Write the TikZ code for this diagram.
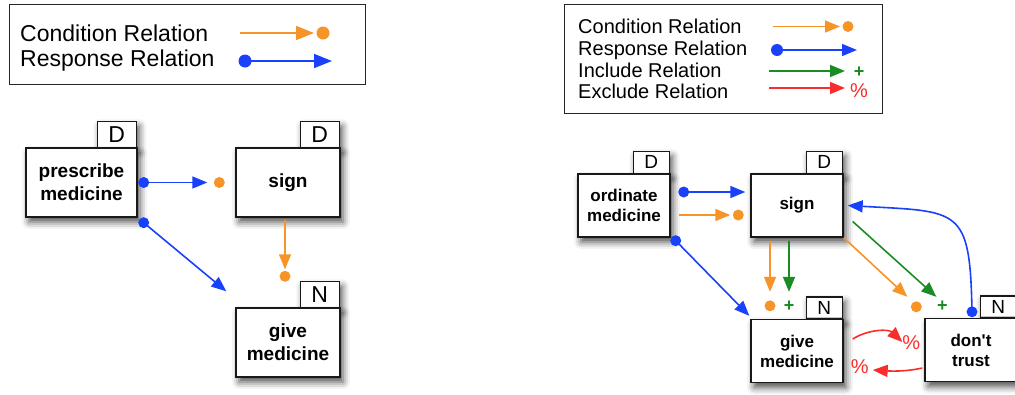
\documentclass[tikz,border=0pt]{standalone}
\usepackage{fontspec}
\setmainfont{Liberation Sans}
\usetikzlibrary{arrows.meta,shadows.blur,calc}
\definecolor{corange}{RGB}{247,148,40}
\definecolor{cblue}{RGB}{25,65,250}
\definecolor{cgreen}{RGB}{25,140,35}
\definecolor{cred}{RGB}{250,45,45}
\begin{document}
\begin{tikzpicture}[x=1pt,y=-1pt,
  shad/.style={blur shadow={shadow xshift=3pt,shadow yshift=-5pt,shadow blur radius=7pt,shadow opacity=70}},
  box/.style={draw=black!90,line width=1.4pt,fill=white,inner sep=0pt,align=center,shad},
  lbox/.style={box,minimum height=69pt,font=\bfseries\fontsize{19}{23}\selectfont},
  rbox/.style={box,minimum width=92pt,minimum height=63pt,font=\bfseries\fontsize{17}{20}\selectfont},
  ltag/.style={draw=black!90,line width=1.4pt,fill=white,minimum width=39pt,minimum height=26pt,inner sep=0pt,anchor=south east,font=\fontsize{23}{23}\selectfont,shad},
  rtag/.style={draw=black!90,line width=1.4pt,fill=white,minimum width=36pt,minimum height=22pt,inner sep=0pt,anchor=south east,font=\fontsize{19}{19}\selectfont,shad},
  legbox/.style={draw=black!85,line width=1.4pt,anchor=north west,inner sep=0pt},
  ltxt/.style={anchor=base west,inner sep=0pt,font=\fontsize{23}{23}\selectfont},
  rtxt/.style={anchor=base west,inner sep=0pt,font=\fontsize{20}{20}\selectfont},
  bigtip/.style={-{Triangle[length=18pt,width=14pt]}},
  tip/.style={-{Triangle[length=15pt,width=12pt]}},
  cond/.style={corange,line width=1.6pt},
  resp/.style={cblue,line width=1.6pt},
  incl/.style={cgreen,line width=1.6pt},
  excl/.style={cred,line width=1.6pt},
  plus/.style={cgreen,inner sep=0pt,font=\bfseries\fontsize{18}{18}\selectfont},
  pct/.style={cred,inner sep=0pt,font=\fontsize{20}{20}\selectfont},
]
\clip (0,0) rectangle (1015,394);
\useasboundingbox (0,0) rectangle (1015,394);

% ---------------- left legend
\node[legbox,minimum width=356pt,minimum height=80pt] (leg1) at (9,4) {};
\node[ltxt] (l1c) at (20,41.5) {Condition Relation};
\node[ltxt] (l1r) at (20,66.5) {Response Relation};
\coordinate (l1ca) at (240,33);
\coordinate (l1cb) at (314,33);
\coordinate (l1cd) at (323,33);
\draw[cond,bigtip] (l1ca) -- (l1cb);
\fill[corange] (l1cd) circle (6.5);
\coordinate (l1ra) at (245,61);
\coordinate (l1rb) at (332,61);
\fill[cblue] (l1ra) circle (6.5);
\draw[resp,bigtip] (l1ra) -- (l1rb);

% ---------------- right legend
\node[legbox,minimum width=318pt,minimum height=109pt] (leg2) at (564,4) {};
\node[rtxt] (r1c) at (578,33) {Condition Relation};
\node[rtxt] (r1r) at (578,55) {Response Relation};
\node[rtxt] (r1i) at (578,77) {Include Relation};
\node[rtxt] (r1e) at (578,98) {Exclude Relation};
\coordinate (r1ca) at (773,26.5);
\coordinate (r1cb) at (840,26.5);
\coordinate (r1cd) at (848,26.5);
\draw[cond,tip] (r1ca) -- (r1cb);
\fill[corange] (r1cd) circle (5.5);
\coordinate (r1ra) at (777,50);
\coordinate (r1rb) at (857,50);
\fill[cblue] (r1ra) circle (6);
\draw[resp,tip] (r1ra) -- (r1rb);
\coordinate (r1ia) at (769,71);
\coordinate (r1ib) at (845,71);
\draw[incl,tip] (r1ia) -- (r1ib);
\node[plus] (r1ip) at (859,72) {+};
\coordinate (r1ea) at (769,88);
\coordinate (r1eb) at (845,88);
\draw[excl,tip] (r1ea) -- (r1eb);
\node[pct] (r1ep) at (859,91) {\%};

% ---------------- left diagram
\coordinate (pmc) at (81.5,182.5);
\coordinate (sgc) at (288,182.5);
\coordinate (gmc) at (288,342.5);
\node[ltag] (pmt) at ($(pmc)+(55.5,-34.5)$) {D};
\node[ltag] (sgt) at ($(sgc)+(52,-34.5)$) {D};
\node[ltag] (gmt) at ($(gmc)+(52,-34.5)$) {N};
\node[lbox,minimum width=111pt] (pm) at (pmc) {prescribe\\medicine};
\node[lbox,minimum width=104pt] (sg) at (sgc) {sign};
\node[lbox,minimum width=104pt] (gm) at (gmc) {give\\medicine};
% pm -> sign (response)
\coordinate (a1) at ($(pm.east)+(6,0)$);
\coordinate (a2) at ($(sg.west)+(-28,0)$);
\fill[cblue] (a1) circle (5.5);
\draw[resp,tip] (a1) -- (a2);
\fill[corange] ($(sg.west)+(-16,0)$) circle (5.5);
% pm -> give (response)
\coordinate (b1) at ($(pm.south east)+(6,5)$);
\coordinate (b2) at ($(gm.north west)+(-9,-16)$);
\fill[cblue] (b1) circle (5.5);
\draw[resp,tip] (b1) -- (b2);
% sign -> give (condition)
\coordinate (c1) at ($(sg.south)+(-3,2)$);
\coordinate (c2) at ($(gm.north)+(-3,-38)$);
\draw[cond,tip] (c1) -- (c2);
\fill[corange] ($(gm.north)+(-3,-31)$) circle (5.5);

% ---------------- right diagram
\coordinate (omc) at (624,205.5);
\coordinate (s2c) at (797,205.5);
\coordinate (g2c) at (797,351);
\coordinate (dtc) at (971,350);
\node[rtag] (omt) at ($(omc)+(46,-31.5)$) {D};
\node[rtag] (s2t) at ($(s2c)+(46,-31.5)$) {D};
\node[rtag] (g2t) at ($(g2c)+(46,-31.5)$) {N};
\node[rtag] (dtt) at ($(dtc)+(46,-31.5)$) {N};
\node[rbox] (om) at (omc) {ordinate\\medicine};
\node[rbox] (s2) at (s2c) {sign};
\node[rbox] (g2) at (g2c) {give\\medicine};
\node[rbox] (dt) at (dtc) {don\textquotesingle t\\trust};
% om -> sign response
\coordinate (d1) at ($(om.east)+(13,-13.5)$);
\coordinate (d2) at ($(s2.west)+(-5,-13.5)$);
\fill[cblue] (d1) circle (5.5);
\draw[resp,tip] (d1) -- (d2);
% om -> sign condition
\coordinate (e1) at ($(om.east)+(8,9.5)$);
\coordinate (e2) at ($(s2.west)+(-20,9.5)$);
\draw[cond,tip] (e1) -- (e2);
\fill[corange] ($(s2.west)+(-12,9.5)$) circle (5.5);
% om -> give response
\coordinate (f1) at ($(om.south east)+(5,3)$);
\coordinate (f2) at ($(g2.north west)+(-1,-3)$);
\fill[cblue] (f1) circle (5.5);
\draw[resp,tip] (f1) -- (f2);
% sign -> give condition / include
\coordinate (g1) at ($(s2.south)+(-27,3)$);
\coordinate (g2e) at ($(g2.north)+(-27,-27)$);
\draw[cond,tip] (g1) -- (g2e);
\fill[corange] ($(g2.north)+(-27,-13)$) circle (5.5);
\coordinate (h1) at ($(s2.south)+(-8,3)$);
\coordinate (h2) at ($(g2.north)+(-8,-27)$);
\draw[incl,tip] (h1) -- (h2);
\node[plus] (hp) at ($(g2.north)+(-8,-13)$) {+};
% sign -> dt condition / include
\coordinate (i1) at (s2.south east);
\coordinate (i2) at ($(dt.north west)+(-17,-21)$);
\draw[cond,tip] (i1) -- (i2);
\fill[corange] ($(dt.north west)+(-8,-11)$) circle (5.5);
\coordinate (j1) at ($(s2.east)+(9,16)$);
\coordinate (j2) at ($(dt.north west)+(12,-21)$);
\draw[incl,tip] (j1) -- (j2);
\node[plus] (jp) at ($(dt.north west)+(18,-12)$) {+};
% dt -> sign response (curved)
\coordinate (k1) at ($(dt.north)+(1,-6)$);
\coordinate (k2) at ($(s2.east)+(4,0)$);
\fill[cblue] (k1) circle (5.5);
\draw[resp,tip] (k1) .. controls ($(k1)+(-2,-105)$) and ($(k1)+(-12,-100)$) .. (k2);
% give -> dt exclude
\coordinate (m1) at ($(g2.east)+(9,-12)$);
\coordinate (m2) at ($(dt.west)+(-22,-8)$);
\draw[excl,tip] (m1) .. controls ($(m1)+(16,-10)$) and ($(m1)+(36,-10)$) .. (m2);
\node[pct] (mp) at ($(dt.west)+(-13,-7)$) {\%};
% dt -> give exclude
\coordinate (n1) at ($(dt.west)+(-2,18)$);
\coordinate (n2) at ($(g2.east)+(29,19)$);
\draw[excl,tip] (n1) .. controls ($(n1)+(-18,4)$) and ($(n1)+(-33,3)$) .. (n2);
\node[pct] (np) at ($(g2.east)+(16,16)$) {\%};
\end{tikzpicture}
\end{document}
